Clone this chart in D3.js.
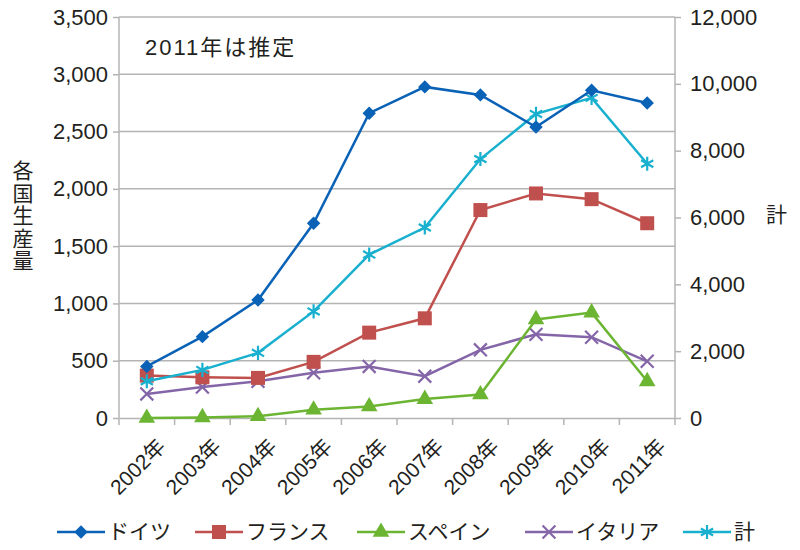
<!DOCTYPE html>
<html><head><meta charset="utf-8">
<script src="https://cdn.jsdelivr.net/npm/d3@7"></script>
<style>body{margin:0;background:#fff}</style>
</head><body>
<svg id="c" width="800" height="550"></svg>
<script>
const years = ["2002年","2003年","2004年","2005年","2006年","2007年","2008年","2009年","2010年","2011年"];
const germany = [450,710,1030,1700,2660,2890,2820,2540,2860,2750];
const france  = [370,355,350,490,745,870,1815,1960,1910,1700];
const spain   = [0,5,15,72,100,165,205,860,920,320];
const italy   = [210,270,320,395,450,365,595,730,705,495];
const total   = [1100,1440,1950,3190,4890,5700,7750,9100,9580,7610];
const leftTicks = [0,500,1000,1500,2000,2500,3000,3500];
const rightTicks = [0,2000,4000,6000,8000,10000,12000];
const seriesNames = ["ドイツ","フランス","スペイン","イタリア","計"];

const svg = d3.select("#c");
const font = "'Liberation Sans', 'Noto Sans CJK JP', sans-serif";
const jfont = "'Noto Sans CJK JP', sans-serif";
const L = 119, R = 675, T = 17, B = 418;
const x = d3.scaleBand().domain(years).range([L, R]);
const yL = d3.scaleLinear().domain([0,3500]).range([B, T]);
const yR = d3.scaleLinear().domain([0,12000]).range([B, T]);
const grid = "#b4b4b4";
const ink = "#231f20";

// gridlines
svg.append("g").selectAll("line").data(leftTicks.slice(1)).join("line")
  .attr("x1", L).attr("x2", R).attr("y1", d=>yL(d)).attr("y2", d=>yL(d))
  .attr("stroke", grid).attr("stroke-width", 1.5);

const fmt = d3.format(",");
const gl = svg.append("g").attr("transform", `translate(${L},0)`)
  .call(d3.axisLeft(yL).tickValues(leftTicks).tickFormat(fmt).tickSize(6).tickPadding(5));
const gr = svg.append("g").attr("transform", `translate(${R},0)`)
  .call(d3.axisRight(yR).tickValues(rightTicks).tickFormat(fmt).tickSize(6).tickPadding(9));
const gb = svg.append("g").attr("transform", `translate(0,${B})`)
  .call(d3.axisBottom(x).tickSize(0).tickFormat(""));
gb.selectAll(".tick").remove();
const bounds = years.map((d,i)=>L + i*x.bandwidth()).concat([R]);
svg.append("g").selectAll("line").data(bounds).join("line")
  .attr("x1", d=>d).attr("x2", d=>d).attr("y1", B).attr("y2", B+7)
  .attr("stroke", grid).attr("stroke-width", 1.5);

[gl, gr, gb].forEach(g=>{
  g.selectAll(".domain").attr("stroke", grid).attr("stroke-width", 1.5);
  g.selectAll(".tick line").attr("stroke", grid).attr("stroke-width", 1.5);
  g.selectAll(".tick text").attr("font-family", font).attr("font-size", 22).attr("fill", ink);
});
gl.select(".domain").attr("d", `M0,${T}V${B}`);
gr.select(".domain").attr("d", `M0,${T}V${B}`);

// x labels rotated
svg.append("g").selectAll("text").data(years).join("text")
  .attr("transform", d=>`translate(${x(d)+x.bandwidth()/2+20},${B+30}) rotate(-45)`)
  .attr("text-anchor", "end")
  .attr("font-family", font).attr("font-size", 21).attr("fill", ink)
  .each(function(d){
    const t = d3.select(this);
    t.append("tspan").text(d.replace("年",""));
    t.append("tspan").attr("font-family", jfont).text("年");
  });

// axis titles
svg.append("text").attr("x", 23).attr("y", 160)
  .style("writing-mode", "vertical-rl").style("letter-spacing", "1.5px")
  .attr("font-family", jfont).attr("font-size", 21).attr("fill", ink)
  .text("各国生産量");
svg.append("text").attr("x", 766).attr("y", 222).attr("font-family", jfont).attr("font-size", 21)
  .attr("fill", ink).text("計");
const ann = svg.append("text").attr("x", 145).attr("y", 55).attr("font-size", 22)
  .style("letter-spacing", "2px").attr("fill", ink);
ann.append("tspan").attr("font-family", font).text("2011");
ann.append("tspan").attr("font-family", jfont).text("年は推定");

const colors = ["#0a62b6","#c0504d","#6cb533","#8466a8","#19b0cf"];
const data = [germany, france, spain, italy, total];
const scales = [yL, yL, yL, yL, yR];
const cx = d => x(d) + x.bandwidth()/2;

function marker(g, type, color, px, py){
  if (type === 0) {
    g.append("path").attr("d", d3.symbol(d3.symbolDiamond2, 115)()).attr("transform", `translate(${px},${py})`)
     .attr("fill", color);
  } else if (type === 1) {
    g.append("rect").attr("x", px-7).attr("y", py-7).attr("width", 14).attr("height", 14).attr("fill", color);
  } else if (type === 2) {
    g.append("path").attr("d", d3.symbol(d3.symbolTriangle, 120)()).attr("transform", `translate(${px},${py})`).attr("fill", color);
  } else if (type === 3) {
    g.append("path").attr("d", d3.symbol(d3.symbolX, 110)()).attr("transform", `translate(${px},${py})`)
      .attr("stroke", color).attr("stroke-width", 2.2).attr("fill", "none");
  } else {
    g.append("path").attr("d", d3.symbol(d3.symbolAsterisk, 140)()).attr("transform", `translate(${px},${py})`)
      .attr("stroke", color).attr("stroke-width", 2.2).attr("fill", "none");
  }
}

const drawOrder = [3,2,1,4,0];
drawOrder.forEach(si=>{
  const g = svg.append("g");
  const line = d3.line().x((d,i)=>cx(years[i])).y(d=>scales[si](d));
  g.append("path").datum(data[si]).attr("d", line).attr("fill", "none")
    .attr("stroke", colors[si]).attr("stroke-width", 2.5);
  data[si].forEach((v,i)=> marker(g, si, colors[si], cx(years[i]), scales[si](v)));
});

// legend
const lx = [57, 195, 357, 525, 683];
seriesNames.forEach((n,i)=>{
  const g = svg.append("g");
  const y0 = 532;
  g.append("line").attr("x1", lx[i]).attr("x2", lx[i]+48).attr("y1", y0).attr("y2", y0)
    .attr("stroke", colors[i]).attr("stroke-width", 2.5);
  marker(g, i, colors[i], lx[i]+24, y0);
  g.append("text").attr("x", lx[i]+51).attr("y", y0+7).attr("font-family", jfont).attr("font-size", 21)
    .attr("fill", ink).text(n);
});
</script>
</body></html>
